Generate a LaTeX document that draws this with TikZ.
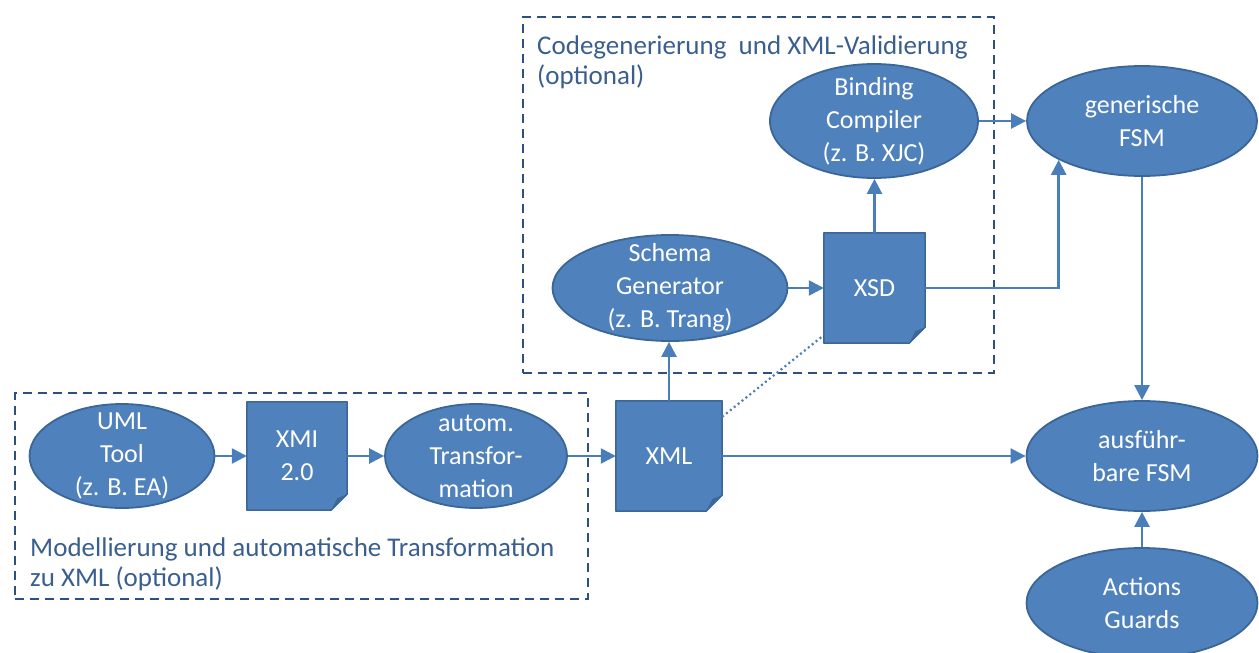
\documentclass[tikz,border=0pt]{standalone}
\usepackage{fontspec}
\setmainfont{Carlito}
\usetikzlibrary{shapes.geometric,arrows.meta}
\pgfdeclarelayer{background}
\pgfsetlayers{background,main}
\definecolor{nodefill}{HTML}{4F81BD}
\definecolor{nodeline}{HTML}{3A6698}
\definecolor{conn}{HTML}{4A7EBB}
\definecolor{groupline}{HTML}{2E5080}
\definecolor{grouptext}{HTML}{3A5F8F}
\definecolor{folddark}{HTML}{3D6699}
\newcommand{\docshape}[1]{%
  \begin{pgfonlayer}{background}
  \filldraw[fill=nodefill, draw=nodeline, line width=1.5pt, line join=round]
    (#1.north west) -- (#1.north east) -- ([yshift=16pt]#1.south east)
    -- ([xshift=-16pt]#1.south east) -- (#1.south west) -- cycle;
  \fill[folddark] ([yshift=16pt]#1.south east) -- ([xshift=-10pt,yshift=12pt]#1.south east)
    -- ([xshift=-16pt]#1.south east) -- cycle;
  \end{pgfonlayer}}
\begin{document}
\begin{tikzpicture}[x=1pt,y=-1pt,
  proc/.style={ellipse, fill=nodefill, draw=nodeline, line width=1.8pt, inner sep=-40pt,
    text=white, align=center, font=\fontsize{26}{33}\selectfont},
  docbox/.style={rectangle, inner sep=0pt, text=white, align=center,
    font=\fontsize{26}{33}\selectfont},
  flow/.style={draw=conn, line width=2.5pt, -{Triangle[length=15pt,width=15pt]}},
  hint/.style={draw=conn, line width=2.2pt, dash pattern=on 2pt off 3pt},
  groupbox/.style={draw=groupline, line width=2.2pt, dash pattern=on 9pt off 6pt,
    rectangle, inner sep=0pt, anchor=north west},
  grouptxt/.style={text=grouptext, align=left, inner sep=0pt, anchor=north west,
    font=\fontsize{27}{30}\selectfont}]
\useasboundingbox (0,0) rectangle (1259,653);

% group boxes
\node[groupbox, minimum width=573pt, minimum height=206pt] (g1) at (14,392) {};
\node[groupbox, minimum width=471pt, minimum height=356pt] (g2) at (522,16) {};
\node[grouptxt] (l1) at (537,36) {Codegenerierung~ und XML-Validierung\\(optional)};
\node[grouptxt] (l2) at (30,538) {Modellierung und automatische Transformation\\zu XML (optional)};

% process ellipses
\node[proc, minimum width=185pt, minimum height=104pt] (uml) at (122,456) {UML\\Tool\\(z. B. EA)};
\node[proc, minimum width=182pt, minimum height=104pt] (auto) at (476,456) {autom.\\Transfor-\\mation};
\node[proc, minimum width=235pt, minimum height=106pt] (schema) at (670,288) {Schema\\Generator\\(z. B. Trang)};
\node[proc, minimum width=208pt, minimum height=114pt] (bind) at (874,121) {Binding\\Compiler\\(z. B. XJC)};
\node[proc, minimum width=230pt, minimum height=110pt] (gen) at (1142,121) {generische\\FSM};
\node[proc, minimum width=231pt, minimum height=110pt] (ausf) at (1142,456) {ausführ-\\bare FSM};
\node[proc, minimum width=231pt, minimum height=110pt] (act) at (1142,603) {Actions\\Guards};

% documents
\node[docbox, minimum width=100pt, minimum height=108pt] (xmi) at (297,456) {XMI\\2.0};
\docshape{xmi}
\node[docbox, minimum width=106pt, minimum height=110pt] (xml) at (669,456) {XML};
\docshape{xml}
\node[docbox, minimum width=101pt, minimum height=110pt] (xsd) at (874.5,288) {XSD};
\docshape{xsd}

% connectors
\draw[flow] (uml) -- (xmi);
\draw[flow] (xmi) -- (auto);
\draw[flow] (auto) -- (xml);
\draw[flow] (xml.north) -- (xml.north |- schema.south);
\draw[flow] (schema) -- (xsd);
\draw[flow] (xsd.north) -- (xsd.north |- bind.south);
\draw[flow] (bind) -- (gen);
\draw[flow] (xsd.east) -| (gen.205);
\draw[flow] (gen) -- (ausf);
\draw[flow] (xml) -- (ausf);
\draw[flow] (act) -- (ausf);
\draw[hint] ([yshift=-16pt]xml.north east) -- ([yshift=8pt]xsd.south west);
\end{tikzpicture}
\end{document}
